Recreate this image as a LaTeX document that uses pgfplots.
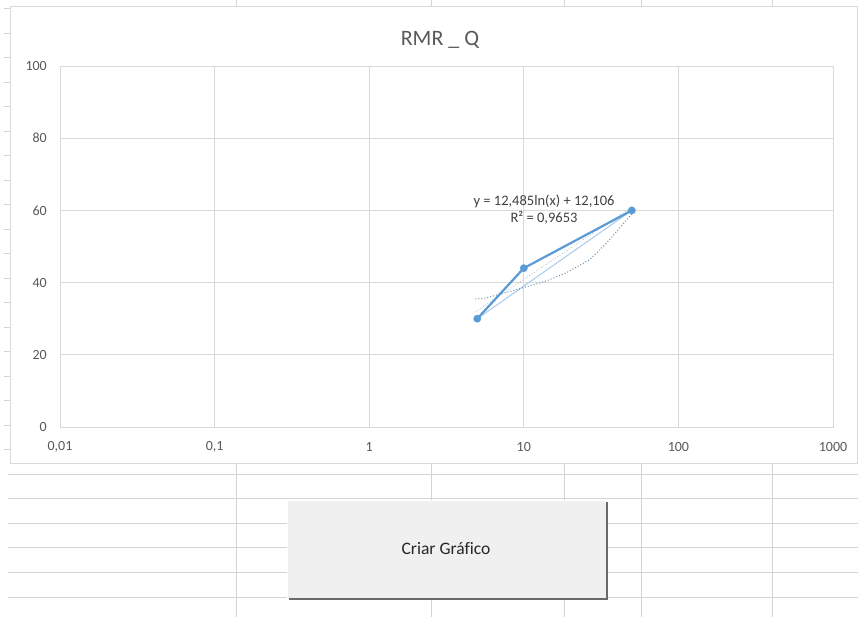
\documentclass[border=0pt]{standalone}
\usepackage{fontspec}
\setmainfont{Carlito}
\usepackage{pgfplots}
\pgfplotsset{compat=1.18}
\definecolor{gridc}{HTML}{D9D9D9}
\definecolor{sheetc}{HTML}{D4D4D4}
\definecolor{tickc}{HTML}{595959}
\definecolor{labc}{HTML}{404040}
\definecolor{serc}{HTML}{5B9BD5}
\definecolor{serl}{HTML}{A9CBEA}
\definecolor{trc}{HTML}{6F8FAF}
\definecolor{btnc}{HTML}{F0F0F0}
\definecolor{shadc}{HTML}{6A6A6A}
\begin{document}
\begin{tikzpicture}[x=1pt,y=1pt]
\useasboundingbox (0,0) rectangle (858,617);
\fill[white] (0,0) rectangle (858,617);
% spreadsheet grid below the chart
\foreach \py in {474,498,523,547,572,597}
  \draw[sheetc, line width=0.8pt] (8,{617-\py}) -- (858,{617-\py});
\foreach \px in {236,431,564,641,772}{
  \draw[sheetc, line width=0.8pt] (\px,0) -- (\px,{617-463});
  \draw[sheetc, line width=0.8pt] (\px,617) -- (\px,{617-6});
}
\foreach \k in {0,...,18}
  \draw[sheetc, line width=0.6pt] (4,{617-(449.5-24.5*\k)}) -- (10,{617-(449.5-24.5*\k)});
% chart area border
\draw[gridc, line width=0.8pt] (10,{617-463}) rectangle (857.5,{617-6});
% button
\fill[shadc] (289,{617-600}) rectangle (608,{617-502});
\fill[btnc] (287,{617-598}) rectangle (606,{617-500});
\draw[white, line width=0.8pt] (287,{617-598}) -- (287,{617-500}) -- (606,{617-500});
\node[font=\fontsize{17.5}{20}\selectfont, text=black!85] at (446,{617-549}) {Criar Gráf\kern0pt ico};
% title
\node[font=\fontsize{22}{26}\selectfont, text=tickc] at (440,{617-40}) {RMR \_ Q};
\begin{axis}[
  at={(60pt,190pt)}, anchor=south west,
  scale only axis, width=773pt, height=361pt,
  xmode=log, log basis x=10,
  xmin=0.01, xmax=1000, ymin=0, ymax=100,
  xtick={0.01,0.1,1,10,100,1000},
  xticklabels={{0,01},{0,1},1,10,100,1000},
  ytick={0,20,40,60,80,100},
  minor xtick={}, 
  grid=major,
  major grid style={gridc, line width=0.8pt},
  axis line style={gridc, line width=0.8pt},
  major tick length=0pt,
  /pgf/number format/assume math mode=true,
  ticklabel style={font=\fontsize{14}{16}\selectfont, text=tickc},
  yticklabel style={anchor=east, inner sep=0pt, xshift=-13pt},
  xticklabel style={anchor=center, inner sep=0pt, yshift=-20pt},
  clip=false,
]
% faint straight series line
\addplot[serl, line width=1pt] coordinates {(5,30) (50,60)};
% trendline (as rendered)
\addplot[trc, dotted, line width=1pt] coordinates {
(4.86,35.5) (5.65,35.7) (8.87,38.0) (13.9,40.4) (18.8,42.7) (26.6,46.3) (34.4,51.0) (44.4,56.5) (51.5,59.6)};
\addplot[trc!60, dotted, line width=0.8pt] coordinates {(4.9,32.0) (50,60.9)};
% data
\addplot[serc, line width=2.2pt, mark=*, mark size=3.6pt, mark options={fill=serc, draw=serc, line width=0.5pt}] coordinates {(5,30) (10,44) (50,60)};
\end{axis}
\node[align=center, font=\fontsize{14.5}{17}\selectfont, text=labc] at (544,{617-209.5}) {y = 12,485ln(x) + 12,106\\R² = 0,9653};
\end{tikzpicture}
\end{document}
